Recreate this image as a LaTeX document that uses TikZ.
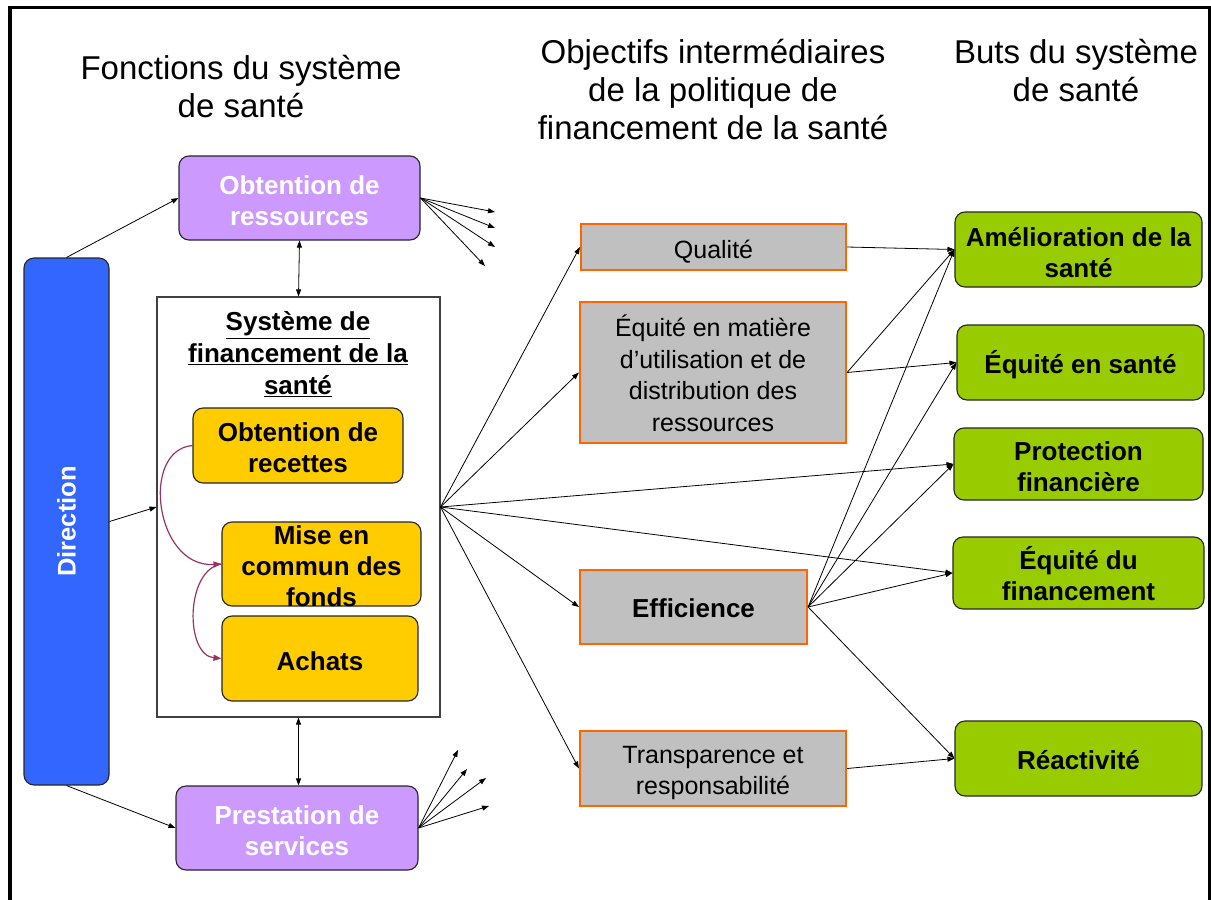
\documentclass[tikz,border=0pt]{standalone}
\usepackage{fontspec}
\setmainfont{Liberation Sans}
\usetikzlibrary{arrows.meta}
\definecolor{purp}{HTML}{CC99FF}
\definecolor{blu}{HTML}{3366FF}
\definecolor{yel}{HTML}{FFCC00}
\definecolor{grn}{HTML}{99CC00}
\definecolor{gry}{HTML}{C0C0C0}
\definecolor{orng}{HTML}{FF6600}
\definecolor{plum}{HTML}{993366}
\begin{document}
\begin{tikzpicture}[x=1pt,y=-1pt,
  sz/.style 2 args={minimum width=#1pt, minimum height=#2pt},
  bt/.style={align=center, inner sep=0pt, font=\fontsize{26}{31}\selectfont\bfseries},
  rt/.style={align=center, inner sep=0pt, font=\fontsize{25}{31.5}\selectfont},
  fbox/.style={rounded corners=10pt, draw=black!85, line width=1.1pt, inner sep=0pt},
  purpbox/.style={fbox, fill=purp},
  ybox/.style={fbox, fill=yel},
  gbox/.style={fbox, fill=grn},
  obox/.style={draw=orng, line width=2.2pt, fill=gry, inner sep=0pt},
  ttl/.style={align=center, font=\fontsize{33}{38}\selectfont},
  con/.style={-{Triangle[length=7pt,width=5pt]}, line width=0.8pt},
  dcon/.style={{Triangle[length=7pt,width=5pt]}-{Triangle[length=7pt,width=5pt]}, line width=0.8pt},
  pcon/.style={-{Triangle[length=8pt,width=6pt]}, line width=1.2pt, draw=plum, color=plum}
]
\useasboundingbox (0,0) rectangle (1211,900);
\fill[white] (0,0) rectangle (1211,900);
% frame
\draw[line width=3.5pt] (10,900) -- (10,7.5) -- (1209.5,7.5) -- (1209.5,900);

% titles
\node[ttl] (t1) at (241,87) {Fonctions du système\\de santé};
\node[ttl] (t2) at (713,89.5) {Objectifs intermédiaires\\de la politique de\\financement de la santé};
\node[ttl] (t3) at (1076,70.5) {Buts du système\\de santé};

% left column
\node[purpbox, sz={241}{84}] (res) at (299.5,198) {};
\node[bt, text=white] (rest) at (299.5,201) {Obtention de\\ressources};
\node[fbox, fill=blu, sz={85}{527}] (dir) at (66.5,521.5) {};
\node[text=white, rotate=90, font=\fontsize{25.5}{30}\selectfont\bfseries] (dirt) at (dir.center) {Direction};
\node[draw=black!75, line width=1.1pt, fill=white, sz={283}{420}] (sys) at (298.5,507) {};
\node[align=center, font=\fontsize{26}{32}\selectfont\bfseries] (syst) at (298,354.5)
  {\underline{Système de}\\\underline{financement de la}\\\underline{santé}};
\node[ybox, sz={210}{75}] (rec) at (298,445.5) {};
\node[bt] (rect) at (298,447.5) {Obtention de\\recettes};
\node[ybox, sz={199}{84}] (mise) at (321.5,564) {};
\node[bt] (miset) at (321.5,566.5) {Mise en\\commun des\\fonds};
\node[ybox, sz={196}{85}] (ach) at (320,658.5) {};
\node[bt] (acht) at (320,661.5) {Achats};
\node[purpbox, sz={242}{84}] (pres) at (297,828) {};
\node[bt, text=white] (prest) at (297,831) {Prestation de\\services};

% middle column
\node[obox, sz={265}{46}] (qual) at (713.5,247) {};
\node[rt] (qualt) at (713.5,252) {Qualité};
\node[obox, sz={266}{141}] (equ) at (713,372.5) {};
\node[rt] (equt) at (713,373.5) {Équité en matière\\d’utilisation et de\\distribution des\\ressources};
\node[obox, sz={227}{74}] (eff) at (693.5,607) {};
\node[bt] (efft) at (693.5,608) {Efficience};
\node[obox, sz={266}{75}] (trans) at (713,768.5) {};
\node[rt] (transt) at (713,773) {Transparence et\\responsabilité};

% right column
\node[gbox, sz={247}{75}] (ame) at (1078.5,249.5) {};
\node[bt] (amet) at (1078.5,252.5) {Amélioration de la\\santé};
\node[gbox, sz={247}{75}] (eqs) at (1080.5,362.5) {};
\node[bt] (eqst) at (1080.5,364.5) {Équité en santé};
\node[gbox, sz={249}{72}] (prot) at (1078.5,464) {};
\node[bt] (prott) at (1078.5,467) {Protection\\financière};
\node[gbox, sz={251}{72}] (eqf) at (1078.5,573) {};
\node[bt] (eqft) at (1078.5,574) {Équité du\\financement};
\node[gbox, sz={247}{75}] (reac) at (1078.5,758.5) {};
\node[bt] (react) at (1078.5,760.5) {Réactivité};

% fan end points
\coordinate (r1) at (495,212);
\coordinate (r2) at (495,228);
\coordinate (r3) at (495,247);
\coordinate (r4) at (485,266);
\coordinate (p1) at (458,750);
\coordinate (p2) at (467,769);
\coordinate (p3) at (486,778);
\coordinate (p4) at (489,806);

% connectors left
\draw[con] (dir.north) -- (res.west);
\draw[con] (dir.east) -- (sys.west);
\draw[con] (dir.south) -- (pres.west);
\draw[dcon] (res.south) -- (sys.north);
\draw[dcon] (sys.south) -- (sys.south |- pres.north);
\foreach \c in {r1,r2,r3,r4} \draw[con] (res.east) -- (\c);
\foreach \c in {p1,p2,p3,p4} \draw[con] (pres.east) -- (\c);

% curved arrows
\draw[pcon] (rec.west) .. controls (140,450) and (155,568) .. (mise.west);
\draw[pcon] (mise.west) .. controls (185,570) and (185,655) .. (ach.west);

% system to objectives
\foreach \t in {qual,equ,eff,trans,prot,eqf} \draw[con] (sys.east) -- (\t.west);

% objectives to goals
\draw[con] (qual.east) -- (ame.west);
\draw[con] (equ.east) -- (ame.west);
\draw[con] (equ.east) -- (eqs.west);
\foreach \t in {ame,eqs,prot,eqf,reac} \draw[con] (eff.east) -- (\t.west);
\draw[con] (trans.east) -- (reac.west);
\end{tikzpicture}
\end{document}
